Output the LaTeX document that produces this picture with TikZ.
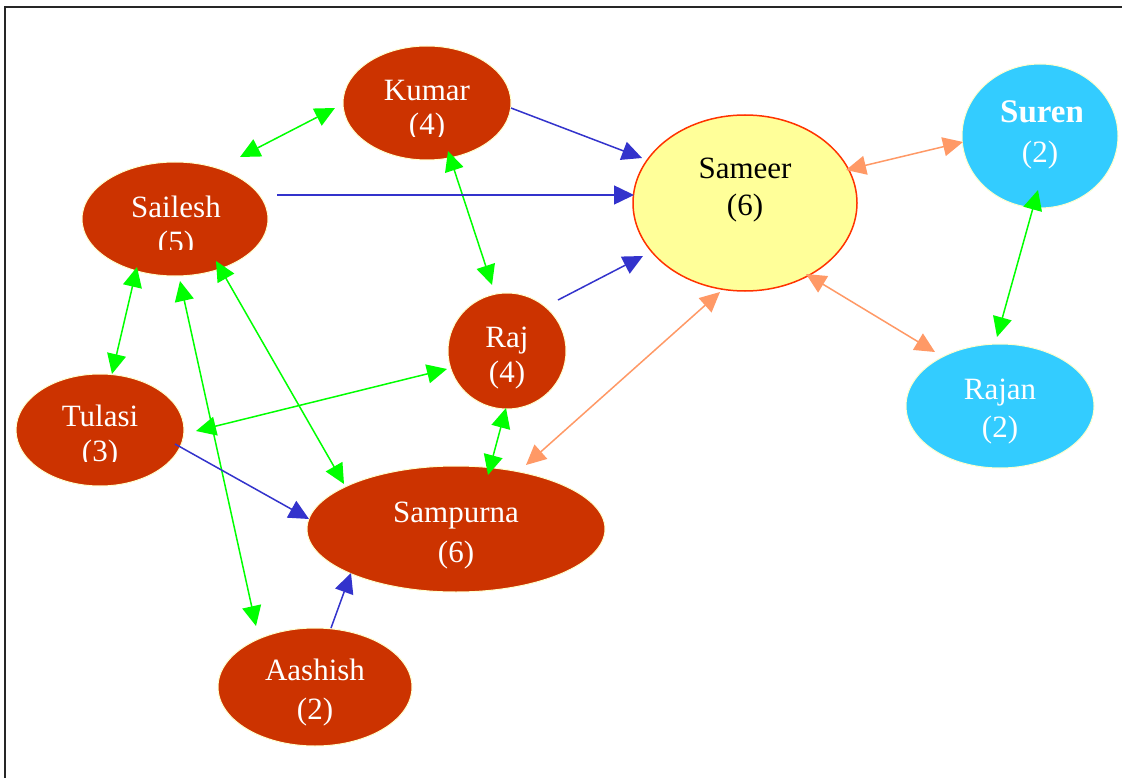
\documentclass[tikz,border=0pt]{standalone}
\usepackage{fontspec}
\setmainfont{Liberation Serif}
\usetikzlibrary{shapes.geometric,arrows.meta,calc}
\definecolor{nodered}{HTML}{CC3300}
\definecolor{nodeblue}{HTML}{33CCFF}
\definecolor{nodeyellow}{HTML}{FFFF99}
\definecolor{rimyellow}{HTML}{FFFFCC}
\definecolor{rimred}{HTML}{FF3300}
\definecolor{linkgreen}{HTML}{00FF00}
\definecolor{linkblue}{HTML}{3333CC}
\definecolor{linksalmon}{HTML}{FF9966}
\tikzset{gv/.tip={Triangle[length=20pt,width=19pt]}}
\begin{document}
\begin{tikzpicture}[x=1pt,y=-1pt,
  person/.style={ellipse, inner sep=0pt, outer sep=0pt, draw=rimyellow, line width=1pt},
  redp/.style={person, fill=nodered},
  bluep/.style={person, fill=nodeblue},
  lbl/.style={anchor=base, inner sep=0pt, text=white, font=\fontsize{31}{36}\selectfont},
  glink/.style={draw=linkgreen, line width=1.5pt, arrows={gv-gv}},
  blink/.style={draw=linkblue, line width=1.5pt, arrows={-gv}},
  slink/.style={draw=linksalmon, line width=1.5pt, arrows={gv-gv}}
]
\useasboundingbox (0,0) rectangle (1122,778);
\fill[white] (0,0) rectangle (1122,778);

% frame
\draw[line width=2.2pt, draw=black!85] (1122,7) -- (5,7) -- (5,778);

% people
\node[redp, minimum width=168pt, minimum height=114pt] (kumar) at (427,103) {};
\node[redp, minimum width=186pt, minimum height=114pt] (sailesh) at (175,219) {};
\node[person, fill=nodeyellow, draw=rimred, line width=1.5pt,
      minimum width=224pt, minimum height=176pt] (sameer) at (745,203) {};
\node[bluep, minimum width=156pt, minimum height=144pt] (suren) at (1040,136) {};
\node[bluep, minimum width=188pt, minimum height=124pt] (rajan) at (1000,406) {};
\node[redp, minimum width=118pt, minimum height=116pt] (raj) at (507,351) {};
\node[redp, minimum width=168pt, minimum height=112pt] (tulasi) at (100,430) {};
\node[redp, minimum width=298pt, minimum height=126pt] (sampurna) at (456,529) {};
\node[redp, minimum width=194pt, minimum height=118pt] (aashish) at (315,687) {};

% labels
\begin{scope}
  \clip (340,40) rectangle (515,137);
  \node[lbl] (kumarname) at (427,101) {Kumar};
  \node[lbl] (kumarnum) at (427,135) {(4)};
\end{scope}
\begin{scope}
  \clip (80,150) rectangle (270,250);
  \node[lbl] (saileshname) at (176,218) {Sailesh};
  \node[lbl] (saileshnum) at (176,253) {(5)};
\end{scope}
\node[lbl, text=black] (sameername) at (745,179) {Sameer};
\node[lbl, text=black] (sameernum) at (745,216) {(6)};
\begin{scope}
  \clip (960,60) rectangle (1081,215);
  \node[lbl, anchor=base west, font=\fontsize{33}{36}\selectfont\bfseries] (surenname) at (1000,123) {Suren};
\end{scope}
\node[lbl] (surennum) at (1040,163) {(2)};
\node[lbl] (rajanname) at (1000,399) {Rajan};
\node[lbl] (rajannum) at (1000,437) {(2)};
\node[lbl] (rajname) at (507,347) {Raj};
\node[lbl] (rajnum) at (507,382) {(4)};
\begin{scope}
  \clip (10,370) rectangle (190,461);
  \node[lbl] (tulasiname) at (100,426) {Tulasi};
  \node[lbl] (tulasinum) at (100,461) {(3)};
\end{scope}
\node[lbl] (sampurnaname) at (456,522) {Sampurna};
\node[lbl] (sampurnanum) at (456,562) {(6)};
\node[lbl] (aashishname) at (315,680) {Aashish};
\node[lbl] (aashishnum) at (315,719) {(2)};

% two-way green links
\draw[glink] ($(sailesh)+(65,-62)$) -- ($(kumar)+(-92,5)$);
\draw[glink] ($(kumar)+(21,48)$) -- ($(raj)+(-15,-66)$);
\draw[glink] ($(sailesh)+(-38,48)$) -- ($(tulasi)+(12,-56)$);
\draw[glink] ($(sailesh)+(41,42)$) -- ($(sampurna)+(-112,-45)$);
\draw[glink] ($(sailesh)+(5,62)$) -- ($(aashish)+(-59,-61)$);
\draw[glink] ($(tulasi)+(96,1)$) -- ($(raj)+(-60,18)$);
\draw[glink] ($(raj)+(-1,57)$) -- ($(sampurna)+(32,-54)$);
\draw[glink] ($(suren)+(-2,54)$) -- ($(rajan)+(-3,-69)$);

% one-way blue links
\draw[blink] ($(kumar)+(84,5)$) -- ($(sameer)+(-103,-45)$);
\draw[blink] ($(sailesh)+(102,-24)$) -- ($(sameer)+(-111,-8)$);
\draw[blink] ($(raj)+(51,-51)$) -- ($(sameer)+(-102,53)$);
\draw[blink] ($(tulasi)+(75,14)$) -- ($(sampurna)+(-147,-10)$);
\draw[blink] ($(aashish)+(16,-59)$) -- ($(sampurna)+(-105,44)$);

% two-way salmon links
\draw[slink] ($(sameer)+(101,-33)$) -- ($(suren)+(-77,6)$);
\draw[slink] ($(sameer)+(61,71)$) -- ($(rajan)+(-65,-54)$);
\draw[slink] ($(sameer)+(-25,89)$) -- ($(sampurna)+(70,-64)$);
\end{tikzpicture}
\end{document}
